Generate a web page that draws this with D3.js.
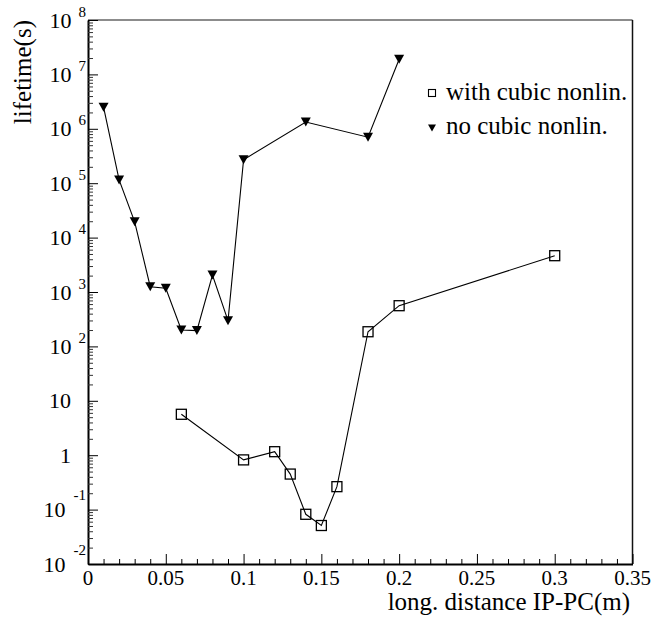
<!DOCTYPE html>
<html>
<head>
<meta charset="utf-8">
<script src="https://cdn.jsdelivr.net/npm/d3@7"></script>
<style>
  html, body { margin: 0; padding: 0; background: #fff; }
</style>
</head>
<body>
<svg id="chart" width="654" height="619"></svg>
<script>
// Distance between IP and PC (m) and beam lifetime (s)
const distWith = [0.06, 0.10, 0.12, 0.13, 0.14, 0.15, 0.16, 0.18, 0.20, 0.30];
const lifeWith = [5.65, 0.82, 1.16, 0.45, 0.082, 0.051, 0.264, 186, 560, 4650];

const distNo = [0.01, 0.02, 0.03, 0.04, 0.05, 0.06, 0.07, 0.08, 0.09, 0.10, 0.14, 0.18, 0.20];
const lifeNo = [2.5e6, 1.15e5, 1.95e4, 1.25e3, 1.17e3, 200, 195, 2.05e3, 297, 2.7e5, 1.33e6, 7.0e5, 1.9e7];

const xTickLabels = ["0", "0.05", "0.1", "0.15", "0.2", "0.25", "0.3", "0.35"];
const yDecades = [-2, -1, 0, 1, 2, 3, 4, 5, 6, 7, 8];
const seriesNames = ["with cubic nonlin.", "no cubic nonlin."];

const FONT = "Liberation Serif";

const svg = d3.select("#chart");
const L = 88, R = 632.5, T = 20, B = 564;

const x = d3.scaleLinear().domain([0, 0.35]).range([L, R]);
const y = d3.scaleLog().domain([1e-2, 1e8]).range([B, T]);

const addText = (xx, yy, size, anchor, str) => {
  const t = svg.append("text").attr("x", xx).attr("y", yy)
    .attr("font-size", size)
    .attr("text-anchor", anchor).attr("fill", "#000").text(str);
  t.style("font-family", FONT);
  return t;
};

// frame (top and right)
svg.append("line").attr("x1", L).attr("x2", R).attr("y1", T).attr("y2", T)
  .attr("stroke", "#666").attr("stroke-width", 1.5);
svg.append("line").attr("x1", R).attr("x2", R).attr("y1", T).attr("y2", B)
  .attr("stroke", "#111").attr("stroke-width", 1.5);

// x ticks: minor every 0.01, major every 0.05
const xMinor = d3.range(0, 36).map(i => i / 100);
const xAxis = svg.append("g").attr("transform", `translate(0,${B})`)
  .call(d3.axisBottom(x).tickValues(xMinor).tickSizeInner(-5).tickSizeOuter(0).tickFormat(""));
xAxis.select(".domain").attr("stroke", "#000").attr("stroke-width", 2);
xAxis.selectAll(".tick line")
  .attr("y2", (d, i) => (i % 5 === 0 ? -10 : -5))
  .attr("stroke", "#000").attr("stroke-width", 1);

xTickLabels.forEach((lab, i) => addText(x(i * 0.05), 585, 21, "middle", lab));

// y ticks: decades + minor 2..9
const yMinor = [];
yDecades.forEach(e => {
  if (e < 8) for (let k = 2; k <= 9; k++) yMinor.push(k * Math.pow(10, e));
});
const yAxis = svg.append("g").attr("transform", `translate(${L},0)`)
  .call(d3.axisLeft(y).tickValues(yMinor).tickSizeInner(-5).tickSizeOuter(0).tickFormat(""));
yAxis.select(".domain").attr("stroke", "#000").attr("stroke-width", 2);
yAxis.selectAll(".tick line").attr("stroke", "#333").attr("stroke-width", 1);
const yMajor = svg.append("g").attr("transform", `translate(${L},0)`)
  .call(d3.axisLeft(y).tickValues(yDecades.map(e => Math.pow(10, e))).tickSizeInner(-10).tickSizeOuter(0).tickFormat(""));
yMajor.select(".domain").remove();
yMajor.selectAll(".tick line").attr("stroke", "#000").attr("stroke-width", 1);

yDecades.forEach(e => {
  const yy = y(Math.pow(10, e));
  if (e === 0 || e === 1) {
    addText(71, yy + 7.5, 22, "end", e === 0 ? "1" : "10");
  } else {
    const neg = e < 0;
    const t = addText(86, yy + 7.5, 22, "end", null);
    t.append("tspan").text("10");
    t.append("tspan").attr("dx", neg ? 8 : 7).attr("dy", neg ? -17 : -11)
      .attr("font-size", 15).text(String(e));
  }
});

// axis titles
addText(630, 610, 25, "end", "long. distance IP-PC(m)");
addText(0, 0, 25, "end", "lifetime(s)").attr("x", null).attr("y", null)
  .attr("transform", "translate(31,20) rotate(-90)");

// series lines
const line = d3.line().x(d => x(d[0])).y(d => y(d[1]));
const withPts = distWith.map((d, i) => [d, lifeWith[i]]);
const noPts = distNo.map((d, i) => [d, lifeNo[i]]);

svg.append("path").datum(withPts).attr("d", line)
  .attr("fill", "none").attr("stroke", "#000").attr("stroke-width", 1.1);
svg.append("path").datum(noPts).attr("d", line)
  .attr("fill", "none").attr("stroke", "#000").attr("stroke-width", 1.1);

// markers
const sq = 10;
svg.append("g").selectAll("rect").data(withPts).join("rect")
  .attr("x", d => x(d[0]) - sq / 2).attr("y", d => y(d[1]) - sq / 2)
  .attr("width", sq).attr("height", sq)
  .attr("fill", "none").attr("stroke", "#000").attr("stroke-width", 1.3);

const triDown = (cx, cy, w, h) =>
  `M${cx - w / 2},${cy - h / 2}L${cx + w / 2},${cy - h / 2}L${cx},${cy + h / 2}Z`;
svg.append("g").selectAll("path").data(noPts).join("path")
  .attr("d", d => triDown(x(d[0]), y(d[1]), 10, 9))
  .attr("fill", "#000");

// legend
svg.append("rect").attr("x", 428.5).attr("y", 89.5).attr("width", 7).attr("height", 7)
  .attr("fill", "none").attr("stroke", "#000").attr("stroke-width", 1.1);
addText(446, 100, 25, "start", seriesNames[0]);
svg.append("path").attr("d", triDown(432, 128, 8, 7)).attr("fill", "#000");
addText(446, 134, 25, "start", seriesNames[1]);
</script>
</body>
</html>
